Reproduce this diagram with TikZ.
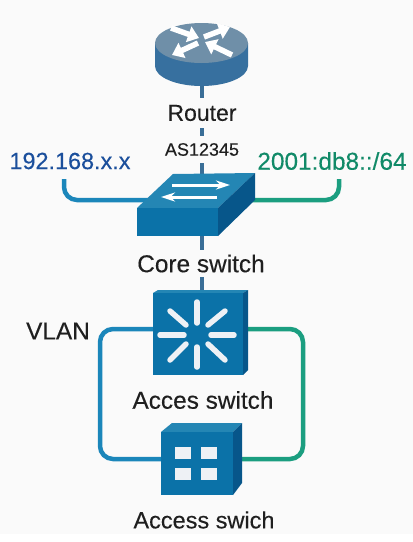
\documentclass[tikz,border=0pt]{standalone}
\usepackage{fontspec}
\setmainfont{Liberation Sans}[FakeBold=0.25]
\usetikzlibrary{arrows.meta}
\definecolor{pagebg}{HTML}{FAFAFA}
\definecolor{stemblue}{HTML}{3A6E97}
\definecolor{linkblue}{HTML}{1B86BA}
\definecolor{linkgreen}{HTML}{1B9E80}
\definecolor{frontblue}{HTML}{0B72A8}
\definecolor{topblue}{HTML}{2486B4}
\definecolor{sideblue}{HTML}{07568A}
\definecolor{routertop}{HTML}{6F8FA8}
\definecolor{routerside}{HTML}{37709F}
\definecolor{ipblue}{HTML}{1B4F9C}
\definecolor{ipgreen}{HTML}{118A68}
\definecolor{tilewhite}{HTML}{EEF1F5}
\tikzset{
  stemlink/.style={draw=stemblue, line width=4.5pt},
  bluelink/.style={draw=linkblue, line width=4.5pt, rounded corners=13pt},
  greenlink/.style={draw=linkgreen, line width=4.5pt, rounded corners=13pt},
  devlabel/.style={font=\fontsize{24.4}{28}\selectfont, text=black!88, inner sep=0pt},
  gaplabel/.style={devlabel, fill=pagebg, minimum height=27pt},
  routerarrow/.style={white, line width=5.5pt, -{Triangle[length=11pt,width=16pt]}},
  corearrow/.style={white, line width=3pt, -{Stealth[length=14pt,width=9pt]}},
  rayline/.style={tilewhite, line width=5.5pt, line cap=round},
}
\begin{document}
\begin{tikzpicture}[x=1pt,y=-1pt]
\useasboundingbox (0,0) rectangle (413,542);
\fill[white] (0,0) rectangle (413,542);
\fill[pagebg] (0,0) rectangle (413,534);
% anchor points
\coordinate (router) at (202,80);
\coordinate (coreTop) at (202,180);
\coordinate (coreBot) at (202,230);
\coordinate (coreL) at (150,200);
\coordinate (coreR) at (250,200);
\coordinate (ipv4) at (64,179);
\coordinate (ipv6) at (339,179);
\coordinate (accessTop) at (202,295);
\coordinate (accessL) at (160,329);
\coordinate (accessR) at (240,329);
\coordinate (edgeL) at (170,459);
\coordinate (edgeR) at (236,459);
\coordinate (ringNW) at (100,329);
\coordinate (ringSW) at (100,459);
\coordinate (ringNE) at (303,329);
\coordinate (ringSE) at (303,459);
% links
\draw[stemlink] (router) -- (coreTop);
\draw[stemlink] (coreBot) -- (accessTop);
\draw[bluelink] (ipv4) |- (coreL);
\draw[greenlink] (ipv6) |- (coreR);
\draw[bluelink] (accessL) -- (ringNW) -- (ringSW) -- (edgeL);
\draw[greenlink] (accessR) -- (ringNE) -- (ringSE) -- (edgeR);
% router
\fill[routerside] (155,43) -- (155,66) arc[start angle=180, end angle=360, x radius=46.5, y radius=-20] -- (248,43) -- cycle;
\fill[routertop] (201.5,43) ellipse [x radius=46.5, y radius=20];
\draw[routerarrow] (171,28) -- (199,38);
\draw[routerarrow] (204,37) -- (230,27);
\draw[routerarrow] (198,43) -- (172,55);
\draw[routerarrow] (232,55) -- (205,42);
% core switch
\fill[topblue] (173,174) -- (255,173) -- (218,208) -- (137,208) -- cycle;
\fill[sideblue] (218,208) -- (255,173) -- (255,200) -- (218,236) -- cycle;
\fill[frontblue] (137,208) rectangle (218,236);
\draw[corearrow] (172,185) -- (230,185);
\draw[corearrow] (217,197) -- (161,197);
% access switch
\fill[topblue] (158,290) -- (248,290) -- (243,293) -- (153,293) -- cycle;
\fill[sideblue] (243,293) -- (248,290) -- (248,370) -- (243,375) -- cycle;
\fill[frontblue] (153,293) rectangle (243,375);
\foreach \xa/\ya/\xb/\yb in {197/302/197/323, 197/347/197/367, 160/335/184/335, 211/335/234/335,
  170/311/186/325, 225/311/208/325, 186/344/170/360, 208/344/225/360}
  \draw[rayline] (\xa,\ya) -- (\xb,\yb);
% edge switch
\fill[topblue] (172,423) -- (242,423) -- (233,432) -- (161,432) -- cycle;
\fill[sideblue] (233,432) -- (242,423) -- (242,483) -- (233,495) -- cycle;
\fill[frontblue] (161,432) rectangle (233,495);
\foreach \xa/\ya in {175/447, 201/447, 175/468, 201/468}
  \fill[tilewhite] (\xa,\ya) rectangle ++(16,12);
% labels
\node[gaplabel, font=\fontsize{23}{26}\selectfont, minimum height=30pt] (routerlabel) at (202,113) {Router};
\node[gaplabel, font=\fontsize{18}{21}\selectfont] (aslabel) at (202,149.5) {AS12345};
\node[devlabel, text=ipblue, font=\fontsize{23.4}{27}\selectfont] (ipv4label) at (70,161) {192.168.x.x};
\node[devlabel, text=ipgreen] (ipv6label) at (332,161) {2001:db8::/64};
\node[gaplabel] (corelabel) at (201,263.5) {Core switch};
\node[devlabel] (vlanlabel) at (58,331) {VLAN};
\node[devlabel] (accesslabel) at (203,400) {Acces switch};
\node[devlabel, font=\fontsize{23.5}{27}\selectfont] (edgelabel) at (204,520) {Access swich};
\end{tikzpicture}
\end{document}
